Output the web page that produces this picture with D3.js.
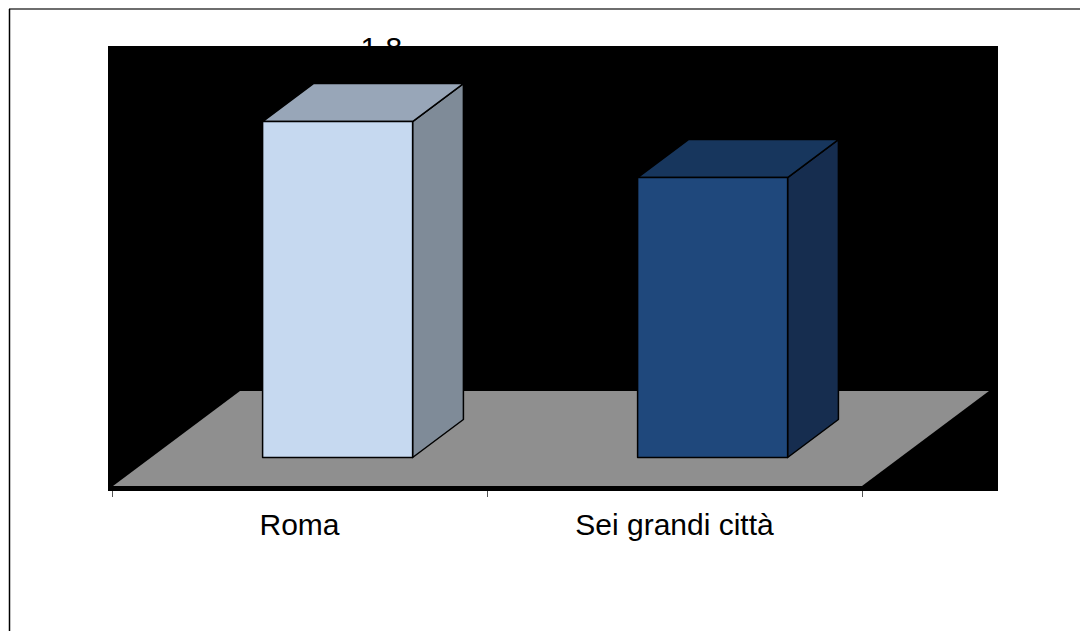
<!DOCTYPE html>
<html>
<head>
<meta charset="utf-8">
<title>Roma vs Sei grandi città</title>
<style>
    body { margin: 0; background: #fff; }
    svg { display: block; font-family: "Liberation Sans", Arial, sans-serif; }
</style>
</head>
<body>
<svg width="1080" height="631"></svg>
<script src="https://d3js.org/d3.v7.min.js"></script>
<script>
    // data
    var categories = ["Roma", "Sei grandi città"];
    var values = [1.8, 1.5];
    var valueLabels = ["1,8", "1,5"];

    // colours per bar: front, top, side
    var frontColors = ["#c6d9f0", "#1f487c"];
    var topColors = ["#98a6b8", "#17365d"];
    var sideColors = ["#7f8b98", "#162d4f"];

    var svg = d3.select("svg");

    // plot area + 3d floor geometry
    var plot = {left: 108, top: 46, right: 998, bottom: 491};
    var floorY = 486, depth = {dx: 127, dy: -95};
    var barDepth0 = 0.3, barDepth1 = 0.7;

    var x = d3.scaleBand()
        .domain(categories)
        .range([112, 862])
        .paddingInner(0.6)
        .paddingOuter(0.3);

    var y = d3.scaleLinear()
        .domain([0, 2])
        .range([0, 373.3]);

    // frame lines
    svg.append("line")
        .attr("x1", 9).attr("x2", 1080).attr("y1", 9).attr("y2", 9)
        .attr("stroke", "#6e6e6e").attr("stroke-width", 2);
    svg.append("line")
        .attr("x1", 9.5).attr("x2", 9.5).attr("y1", 9).attr("y2", 631)
        .attr("stroke", "#000").attr("stroke-width", 1.5);

    var bars = categories.map(function(c, i) {
        var x0 = x(c) + barDepth0 * depth.dx,
            base = floorY + barDepth0 * depth.dy,
            top = base - y(values[i]),
            w = x.bandwidth(),
            ddx = (barDepth1 - barDepth0) * depth.dx,
            ddy = (barDepth1 - barDepth0) * depth.dy;
        return {i: i, x0: x0, base: base, top: top, w: w, ddx: ddx, ddy: ddy};
    });

    // value labels (sit behind the plot area, as in the original)
    svg.selectAll("text.value")
        .data(bars)
        .enter().append("text")
        .attr("class", "value")
        .attr("x", function(d) { return d.x0 + d.w + d.ddx - 82; })
        .attr("y", function(d) { return d.top + d.ddy - 25.5; })
        .attr("text-anchor", "middle")
        .attr("font-size", 30)
        .attr("fill", "#000")
        .text(function(d) { return valueLabels[d.i]; });

    // black plot background
    svg.append("rect")
        .attr("x", plot.left).attr("y", plot.top)
        .attr("width", plot.right - plot.left)
        .attr("height", plot.bottom - plot.top)
        .attr("fill", "#000");

    // floor
    var f0 = x.range()[0], f1 = x.range()[1];
    svg.append("polygon")
        .attr("points", [
            [f0 + 1, floorY], [f1, floorY],
            [f1 + depth.dx, floorY + depth.dy], [f0 + 1 + depth.dx, floorY + depth.dy]
        ].join(" "))
        .attr("fill", "#8f8f8f");

    // category ticks at band boundaries
    var step = x.step();
    var tickPos = [f0].concat(categories.map(function(c) {
        return x(c) + x.bandwidth() + x.paddingInner() * step / 2 + (c === categories[categories.length - 1] ? (x.paddingOuter() - x.paddingInner() / 2) * step : 0);
    }));
    svg.selectAll("line.tick")
        .data(tickPos)
        .enter().append("line")
        .attr("class", "tick")
        .attr("x1", function(d) { return d + 0.5; })
        .attr("x2", function(d) { return d + 0.5; })
        .attr("y1", plot.bottom)
        .attr("y2", plot.bottom + 6)
        .attr("stroke", "#555").attr("stroke-width", 1);

    // 3d bars
    var g = svg.selectAll("g.bar")
        .data(bars)
        .enter().append("g")
        .attr("class", "bar")
        .attr("stroke", "#000")
        .attr("stroke-width", 1.5)
        .attr("stroke-linejoin", "round");

    g.append("polygon")
        .attr("fill", function(d) { return sideColors[d.i]; })
        .attr("points", function(d) {
            return [
                [d.x0 + d.w, d.top], [d.x0 + d.w + d.ddx, d.top + d.ddy],
                [d.x0 + d.w + d.ddx, d.base + d.ddy], [d.x0 + d.w, d.base]
            ].join(" ");
        });
    g.append("polygon")
        .attr("fill", function(d) { return topColors[d.i]; })
        .attr("points", function(d) {
            return [
                [d.x0, d.top], [d.x0 + d.w, d.top],
                [d.x0 + d.w + d.ddx, d.top + d.ddy], [d.x0 + d.ddx, d.top + d.ddy]
            ].join(" ");
        });
    g.append("rect")
        .attr("fill", function(d) { return frontColors[d.i]; })
        .attr("x", function(d) { return d.x0; })
        .attr("y", function(d) { return d.top; })
        .attr("width", function(d) { return d.w; })
        .attr("height", function(d) { return d.base - d.top; });

    // category labels
    svg.selectAll("text.cat")
        .data(categories)
        .enter().append("text")
        .attr("class", "cat")
        .attr("x", function(d) { return x(d) + x.bandwidth() / 2; })
        .attr("y", 535)
        .attr("text-anchor", "middle")
        .attr("font-size", 30)
        .attr("fill", "#000")
        .text(function(d) { return d; });
</script>
</body>
</html>
